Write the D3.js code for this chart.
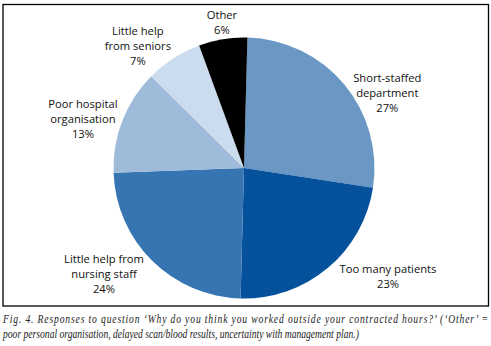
<!DOCTYPE html>
<html>
<head>
<meta charset="utf-8">
<script src="https://cdn.jsdelivr.net/npm/d3@7"></script>
<style>
  body { margin: 0; background: #fff; }
  svg { display: block; }
</style>
</head>
<body>
<svg id="chart" width="491" height="346"></svg>
<script>
// data
const categories = ["Short-staffed department", "Too many patients", "Little help from nursing staff",
  "Poor hospital organisation", "Little help from seniors", "Other"];
const values = [27, 23, 24, 13, 7, 6];
const labelLines = [
  ["Short-staffed", "department", "27%"],
  ["Too many patients", "23%"],
  ["Little help from", "nursing staff", "24%"],
  ["Poor hospital", "organisation", "13%"],
  ["Little help", "from seniors", "7%"],
  ["Other", "6%"]
];
const captionLines = [
  "Fig. 4. Responses to question \u2018Why do you think you worked outside your contracted hours?\u2019 (\u2018Other\u2019 =",
  "poor personal organisation, delayed scan/blood results, uncertainty with management plan.)"
];

const svg = d3.select("#chart");

// frame
svg.append("rect")
  .attr("x", 3).attr("y", 4.5)
  .attr("width", 485.5).attr("height", 301.5)
  .attr("fill", "none")
  .attr("stroke", "#000")
  .attr("stroke-width", 1.3);

const cx = 244, cy = 168, r = 130.5;

const color = d3.scaleOrdinal()
  .domain(categories)
  .range(["#6a97c4", "#05519c", "#3775b2", "#9ebbda", "#cbdcee", "#000000"]);

const pie = d3.pie()
  .sort(null)
  .value(d => d)
  .startAngle(1.5 * Math.PI / 180)
  .endAngle(2 * Math.PI + 1.5 * Math.PI / 180);

const arcs = pie(values);
const arc = d3.arc().innerRadius(0).outerRadius(r);

const g = svg.append("g").attr("transform", `translate(${cx},${cy})`);

g.selectAll("path")
  .data(arcs)
  .join("path")
  .attr("d", arc)
  .attr("fill", (d, i) => color(categories[i]));

// label placement: polar angle (deg, clockwise from top) and radius factor of each text block centre
const labelAngle = [62.3, 126.9, 232.9, 286.9, 319, 351.4];
const labelRadius = [1.24, 1.38, 1.345, 1.29, 1.24, 1.13];
const lineH = 14.8;

arcs.forEach((a, i) => {
  const ang = labelAngle[i] * Math.PI / 180;
  const rr = r * labelRadius[i];
  const lx = cx + Math.sin(ang) * rr;
  const ly = cy - Math.cos(ang) * rr;
  const lines = labelLines[i];
  const t = svg.append("text")
    .attr("text-anchor", "middle")
    .attr("font-family", "'Open Sans', sans-serif")
    .attr("font-size", 11.2)
    .attr("fill", "#111");
  lines.forEach((s, k) => {
    t.append("tspan")
      .attr("x", lx)
      .attr("y", ly + (k - (lines.length - 1) / 2) * lineH + 4)
      .text(s);
  });
});

// caption: narrow italic serif, first line justified to the frame width
const sx = 0.8;
const cap = svg.append("g").attr("transform", `scale(${sx},1)`);
cap.selectAll("text")
  .data(captionLines)
  .join("text")
  .attr("x", 3 / sx)
  .attr("y", (d, i) => 323 + i * 15)
  .attr("font-family", "'Liberation Serif', serif")
  .attr("font-style", "italic")
  .attr("font-size", 12)
  .attr("fill", "#222")
  .attr("textLength", (d, i) => i === 0 ? 485 / sx : null)
  .attr("lengthAdjust", "spacing")
  .text(d => d);
</script>
</body>
</html>
